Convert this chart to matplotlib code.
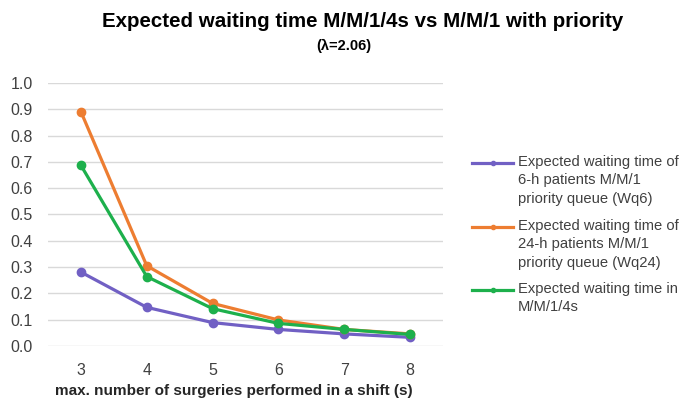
import matplotlib
matplotlib.use("Agg")
from matplotlib import pyplot as plt
from matplotlib.lines import Line2D

plt.rcParams['font.family'] = ['Liberation Sans', 'DejaVu Sans']

s = [3, 4, 5, 6, 7, 8]
wq6 = [0.281, 0.147, 0.089, 0.063, 0.046, 0.033]
wq24 = [0.891, 0.305, 0.162, 0.099, 0.063, 0.046]
w_mm14s = [0.687, 0.264, 0.142, 0.086, 0.063, 0.044]

labels = ["Expected waiting time of\n6-h patients M/M/1\npriority queue (Wq6)",
          "Expected waiting time of\n24-h patients M/M/1\npriority queue (Wq24)",
          "Expected waiting time in\nM/M/1/4s"]
colors = ['#7160C4', '#ED7D31', '#1DB04C']

W, H = 691, 412
fig = plt.figure(figsize=(6.91, 4.12), dpi=100)
ax = fig.add_axes([48/W, 1-346/H, 395/W, 263/H])

for y, c, lab in zip([wq6, wq24, w_mm14s], colors, labels):
    ax.plot(s, y, color=c, lw=2.3, marker='o', markersize=6, label=lab)

ax.set_xlim(2.5, 8.5)
ax.set_ylim(0, 1.0)
ax.set_yticks([i/10 for i in range(11)])
ax.set_yticklabels(["%.1f" % (i/10) for i in range(11)])
ax.set_xticks(s)
ax.grid(axis='y', color='#D9D9D9', lw=1)
ax.set_axisbelow(True)
for sp in ax.spines.values():
    sp.set_visible(False)
ax.tick_params(length=0, labelsize=11.5, colors='#404040')
ax.tick_params(axis='x', pad=12)
ax.tick_params(axis='y', pad=11)
ax.set_xlabel("max. number of surgeries performed in a shift (s)",
              fontsize=11, fontweight='bold', color='#262626', labelpad=7)
ax.xaxis.set_label_coords(0.47, -0.145)

fig.text(0.525, 0.948, "Expected waiting time M/M/1/4s vs M/M/1 with priority",
         ha='center', va='center', fontsize=14.8, fontweight='bold')
fig.text(0.498, 0.888, "(λ=2.06)", ha='center', va='center', fontsize=10.5,
         fontweight='bold')

# legend: handle sits on the first text line, like the original
tops = [163, 227, 290]
for ty, c, lab in zip(tops, colors, labels):
    fig.add_artist(Line2D([472/W, 513/W], [1-ty/H, 1-ty/H], color=c, lw=2.3))
    fig.add_artist(Line2D([492.5/W], [1-ty/H], color=c, marker='o',
                          markersize=3))
    fig.text(518/W, 1-(ty-8)/H, lab, ha='left', va='top', fontsize=10.6,
             color='#404040', linespacing=1.4)

fig.savefig("out.png", dpi=100)
